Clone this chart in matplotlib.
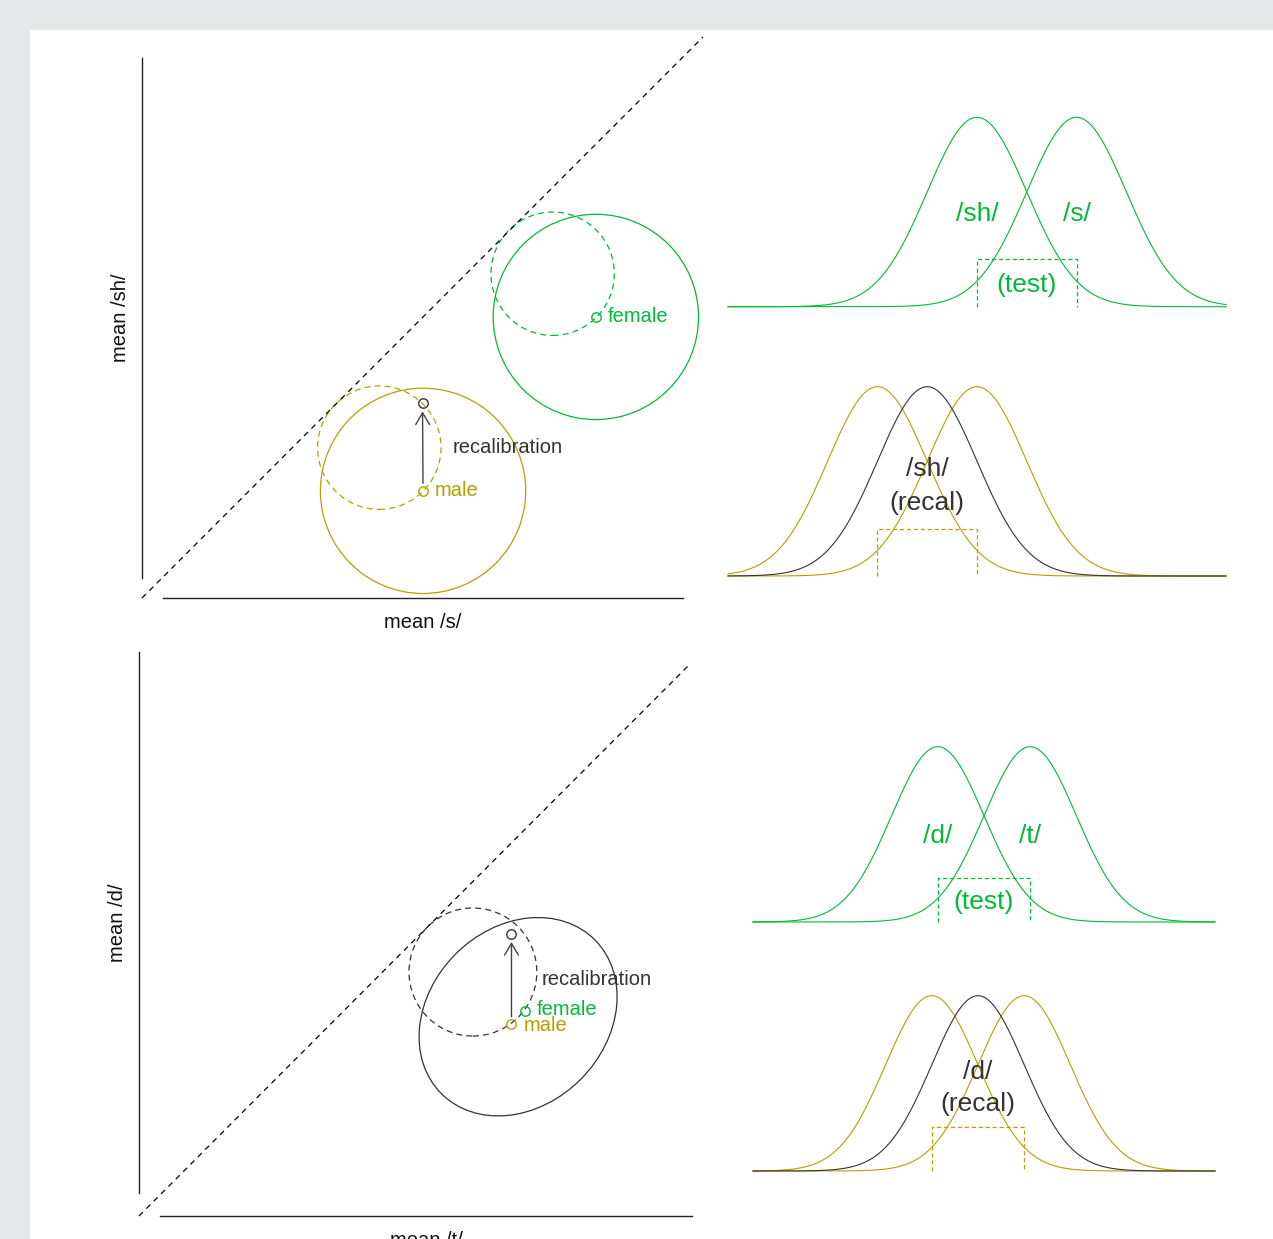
import numpy as np
import matplotlib
matplotlib.use("Agg")
import matplotlib.pyplot as plt
from matplotlib.patches import Circle, Ellipse, Rectangle

plt.rcParams['font.family'] = ['Liberation Sans', 'DejaVu Sans']
plt.rcParams['lines.scale_dashes'] = False

GREEN = '#00BA38'
OLIVE = '#B79F00'
DARK = '#333333'

# --- /s/ vs /sh/ : category means in cue space (left) ---
sib_male = (5.01, 1.91)
sib_female = (8.09, 5.01)
sib_recal = (5.00, 3.47)
sib_radius = 1.83
sib_shift_male = (4.23, 2.68)
sib_shift_female = (7.32, 5.78)
sib_shift_radius = 1.10

# --- /d/ vs /t/ : category means in cue space (left) ---
stop_male = (6.76, 3.47)
stop_female = (7.00, 3.72)
stop_recal = (6.76, 5.11)
stop_pooled = (6.88, 3.61)
stop_pooled_size = (3.94, 3.21)
stop_pooled_angle = 45
stop_shift = (6.06, 4.42)
stop_shift_radius = 1.16

# --- category distributions along the test cue (right) ---
sd = 1.0
sib_labels = ['/sh/', '/s/']
sib_test_means = [-1.0, 1.0]
sib_male_means = [-3.0, -1.0]
sib_recal_mean = -2.0
sib_xrange = (-6, 4)

stop_labels = ['/d/', '/t/']
stop_test_means = [-1.0, 1.0]
stop_male_means = [-1.13, 0.87]
stop_recal_mean = -0.13
stop_xrange = (-5, 5)

W, H = 1273, 1239
fig = plt.figure(figsize=(W / 100, H / 100), dpi=100, facecolor='#e6e7e9')
fig.patches.append(Rectangle((30 / W, 0), 1 - 30 / W, 1 - 30 / H,
                             transform=fig.transFigure, facecolor='white',
                             edgecolor='none', zorder=-10))


def px_axes(x0, y0, x1, y1):
    ax = fig.add_axes([x0 / W, 1 - y1 / H, (x1 - x0) / W, (y1 - y0) / H])
    ax.set_axis_off()
    return ax


def cue_space(ax, yspan, xspan, xlab, ylab):
    ax.set_xlim(0, 10)
    ax.set_ylim(0, 10)
    ax.plot([0, 0], yspan, color='#222222', lw=1.0, clip_on=False)
    ax.plot(xspan, [0, 0], color='#222222', lw=1.0, clip_on=False)
    ax.plot([0, 10], [0, 10], color='black', lw=0.9, ls=(0, (4, 3.5)), clip_on=False)
    ax.annotate(xlab, (np.mean(xspan), 0), xytext=(0, -18), textcoords='offset points',
                ha='center', va='center', fontsize=14.5, color='#111111',
                annotation_clip=False)
    ax.annotate(ylab, (0, np.mean(yspan)), xytext=(-15.5, 0), textcoords='offset points',
                ha='center', va='center', rotation=90, fontsize=14.5,
                color='#111111', annotation_clip=False)


def point(ax, xy, color, label=None, dy=0):
    ax.plot(*xy, marker='o', ms=6.8, mfc='none', mec=color, mew=1.0,
            clip_on=False, zorder=5)
    if label:
        ax.annotate(label, xy, xytext=(8.5, dy), textcoords='offset points',
                    ha='left', va='center', fontsize=14.5, color=color,
                    annotation_clip=False)


def recal_arrow(ax, start, end):
    ax.annotate('', xy=end, xytext=start,
                arrowprops=dict(arrowstyle='->,head_length=0.85,head_width=0.5',
                                color='#444444', lw=1.0, shrinkA=5.5, shrinkB=5.8),
                annotation_clip=False)
    point(ax, end, DARK)
    ax.annotate('recalibration', (start[0], (start[1] + end[1]) / 2),
                xytext=(21.5, 0), textcoords='offset points', ha='left',
                va='center', fontsize=14.5, color=DARK, annotation_clip=False)


# top-left: /s/ - /sh/ space
ax = px_axes(142, 37, 703, 598)
cue_space(ax, (0.357, 9.626), (0.374, 9.64), 'mean /s/', 'mean /sh/')
for c, col in [(sib_male, OLIVE), (sib_female, GREEN)]:
    ax.add_patch(Circle(c, sib_radius, fill=False, ec=col, lw=0.9, clip_on=False))
for c, col in [(sib_shift_male, OLIVE), (sib_shift_female, GREEN)]:
    ax.add_patch(Circle(c, sib_shift_radius, fill=False, ec=col, lw=0.9,
                        ls=(0, (4.3, 3)), clip_on=False))
recal_arrow(ax, sib_male, sib_recal)
point(ax, sib_male, OLIVE, 'male')
point(ax, sib_female, GREEN, 'female')

# bottom-left: /t/ - /d/ space
ax = px_axes(139, 664, 690, 1216)
cue_space(ax, (0.417, 10.22), (0.38, 10.04), 'mean /t/', 'mean /d/')
ax.add_patch(Ellipse(stop_pooled, *stop_pooled_size, angle=stop_pooled_angle,
                     fill=False, ec=DARK, lw=0.9, clip_on=False))
ax.add_patch(Circle(stop_shift, stop_shift_radius, fill=False, ec=DARK, lw=0.9,
                    ls=(0, (4.3, 3)), clip_on=False))
recal_arrow(ax, stop_male, stop_recal)
point(ax, stop_female, GREEN, 'female', dy=0.5)
point(ax, stop_male, OLIVE, 'male', dy=-0.5)


def gauss(x, m):
    return np.exp(-(x - m) ** 2 / (2 * sd ** 2))


def test_box(ax, lo, hi, color):
    # dashed bracket marking the ambiguous test region
    ax.plot([lo, lo, hi, hi], [0, 0.25, 0.25, 0], color=color, lw=0.9,
            ls=(0, (3, 2)), clip_on=False)


def test_panel(box, xrange, means, labels):
    ax = px_axes(*box)
    ax.set_xlim(*xrange)
    ax.set_ylim(0, 1)
    x = np.linspace(xrange[0], xrange[1], 600)
    for m, lab in zip(means, labels):
        ax.plot(x, gauss(x, m), color=GREEN, lw=0.8, clip_on=False)
        ax.text(m, 0.49, lab, ha='center', va='center', fontsize=19, color=GREEN)
    test_box(ax, means[0], means[1], GREEN)
    ax.text(np.mean(means), 0.115, '(test)', ha='center', va='center',
            fontsize=19, color=GREEN)


def recal_panel(box, xrange, means, recal, label):
    ax = px_axes(*box)
    ax.set_xlim(*xrange)
    ax.set_ylim(0, 1)
    x = np.linspace(xrange[0], xrange[1], 600)
    for m in means:
        ax.plot(x, gauss(x, m), color=OLIVE, lw=0.8, clip_on=False)
    ax.plot(x, gauss(x, recal), color=DARK, lw=0.8, clip_on=False)
    test_box(ax, means[0], means[1], OLIVE)
    ax.text(recal, 0.565, label, ha='center', va='center', fontsize=19, color=DARK)
    ax.text(recal, 0.385, '(recal)', ha='center', va='center', fontsize=19, color=DARK)


test_panel((728, 117.3, 1226, 306.7), sib_xrange, sib_test_means, sib_labels)
recal_panel((728, 386.7, 1226, 576), sib_xrange, sib_male_means, sib_recal_mean, sib_labels[0])
test_panel((753, 746.7, 1215, 922), stop_xrange, stop_test_means, stop_labels)
recal_panel((753, 995.7, 1215, 1171), stop_xrange, stop_male_means, stop_recal_mean, stop_labels[0])

fig.savefig('out.png', dpi=100, facecolor=fig.get_facecolor())
